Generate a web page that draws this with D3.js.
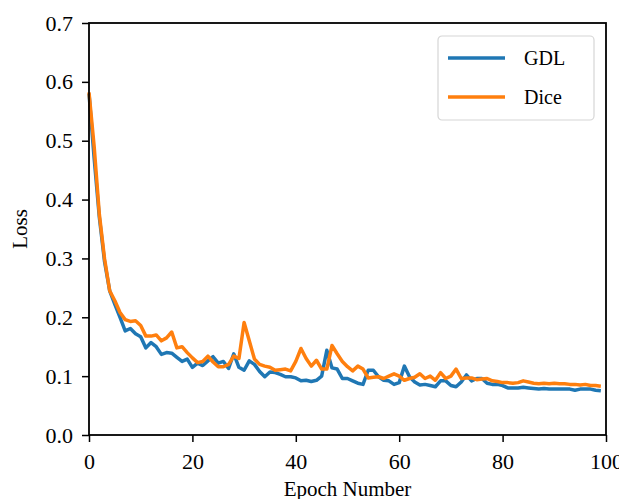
<!DOCTYPE html>
<html>
<head>
<meta charset="utf-8">
<script src="https://cdn.jsdelivr.net/npm/d3@7"></script>
<style>
  body { margin: 0; background: #fff; }
  text { font-family: "Liberation Serif", "Times New Roman", serif; }
</style>
</head>
<body>
<svg id="chart" width="619" height="499"></svg>
<script>
const epochs = d3.range(0, 100);

const gdlLoss = [
  0.580, 0.470, 0.370, 0.295, 0.245, 0.222, 0.200, 0.177, 0.181, 0.172,
  0.167, 0.148, 0.157, 0.150, 0.137, 0.140, 0.139, 0.132, 0.125, 0.129,
  0.115, 0.122, 0.118, 0.126, 0.133, 0.122, 0.125, 0.113, 0.138, 0.115,
  0.110, 0.126, 0.120, 0.108, 0.099, 0.107, 0.106, 0.103, 0.099, 0.099,
  0.097, 0.092, 0.093, 0.091, 0.093, 0.100, 0.144, 0.114, 0.112, 0.096,
  0.096, 0.092, 0.088, 0.086, 0.110, 0.110, 0.099, 0.093, 0.092, 0.086,
  0.089, 0.117, 0.099, 0.090, 0.085, 0.086, 0.084, 0.082, 0.092, 0.092,
  0.084, 0.082, 0.090, 0.102, 0.092, 0.096, 0.096, 0.088, 0.086, 0.086,
  0.084, 0.080, 0.080, 0.080, 0.081, 0.080, 0.079, 0.078, 0.079, 0.078,
  0.078, 0.078, 0.078, 0.078, 0.076, 0.078, 0.078, 0.078, 0.076, 0.075
];

const diceLoss = [
  0.582, 0.490, 0.375, 0.300, 0.245, 0.228, 0.208, 0.196, 0.193, 0.194,
  0.186, 0.168, 0.168, 0.170, 0.160, 0.165, 0.175, 0.148, 0.150, 0.140,
  0.131, 0.123, 0.125, 0.134, 0.124, 0.116, 0.116, 0.120, 0.134, 0.130,
  0.191, 0.160, 0.129, 0.120, 0.117, 0.115, 0.110, 0.111, 0.112, 0.109,
  0.125, 0.147, 0.130, 0.117, 0.127, 0.112, 0.112, 0.152, 0.138, 0.125,
  0.116, 0.109, 0.117, 0.112, 0.097, 0.098, 0.099, 0.096, 0.100, 0.104,
  0.100, 0.093, 0.096, 0.098, 0.104, 0.096, 0.100, 0.093, 0.106, 0.096,
  0.100, 0.112, 0.096, 0.097, 0.097, 0.094, 0.095, 0.096, 0.092, 0.091,
  0.089, 0.089, 0.088, 0.089, 0.092, 0.090, 0.088, 0.087, 0.088, 0.087,
  0.088, 0.087, 0.087, 0.086, 0.086, 0.085, 0.086, 0.084, 0.084, 0.083
];

const seriesNames = ["GDL", "Dice"];
const seriesColors = ["#1f77b4", "#ff7f0e"];
const xTicks = [0, 20, 40, 60, 80, 100];
const yTicks = [0.0, 0.1, 0.2, 0.3, 0.4, 0.5, 0.6, 0.7];

const svg = d3.select("#chart");
const margin = { left: 89, right: 13, top: 23, bottom: 64 };
const width = 619 - margin.left - margin.right;
const height = 499 - margin.top - margin.bottom;

const g = svg.append("g")
  .attr("transform", `translate(${margin.left},${margin.top})`);

const x = d3.scaleLinear().domain([0, 100]).range([0, width]);
const y = d3.scaleLinear().domain([0, 0.7]).range([height, 0]);

// lines
const line = d3.line()
  .x((d, i) => x(epochs[i]))
  .y(d => y(d));

[gdlLoss, diceLoss].forEach((s, i) => {
  g.append("path")
    .datum(s)
    .attr("fill", "none")
    .attr("stroke", seriesColors[i])
    .attr("stroke-width", 3.5)
    .attr("stroke-linejoin", "round")
    .attr("d", line);
});

// axes
const xAxis = g.append("g")
  .attr("transform", `translate(0,${height})`)
  .call(d3.axisBottom(x).tickValues(xTicks).tickFormat(d3.format("d")).tickSize(7).tickPadding(11));
const yAxis = g.append("g")
  .call(d3.axisLeft(y).tickValues(yTicks).tickFormat(d3.format(".1f")).tickSize(7).tickPadding(9));

[xAxis, yAxis].forEach(a => {
  a.select(".domain").remove();
  a.selectAll(".tick line").attr("stroke", "#000").attr("stroke-width", 1.5);
  a.selectAll(".tick text")
    .attr("fill", "#000")
    .style("font-size", "22px")
    .style("font-family", "'Liberation Serif', serif");
});

// frame
g.append("rect")
  .attr("width", width)
  .attr("height", height)
  .attr("fill", "none")
  .attr("stroke", "#000")
  .attr("stroke-width", 1.8);

// axis labels
svg.append("text")
  .attr("x", margin.left + width / 2)
  .attr("y", 496)
  .attr("text-anchor", "middle")
  .style("font-size", "21px")
  .text("Epoch Number");

svg.append("text")
  .attr("transform", `translate(27,${margin.top + height / 2}) rotate(-90)`)
  .attr("text-anchor", "middle")
  .style("font-size", "21px")
  .text("Loss");

// legend
const legend = svg.append("g").attr("transform", "translate(438,36)");
legend.append("rect")
  .attr("width", 156)
  .attr("height", 84)
  .attr("rx", 4)
  .attr("fill", "#fff")
  .attr("stroke", "#d6d6d6")
  .attr("stroke-width", 1.2);

seriesNames.forEach((name, i) => {
  const ly = 22 + i * 39;
  legend.append("line")
    .attr("x1", 10).attr("x2", 67)
    .attr("y1", ly).attr("y2", ly)
    .attr("stroke", seriesColors[i])
    .attr("stroke-width", 3.5);
  legend.append("text")
    .attr("x", 86)
    .attr("y", ly + 7)
    .style("font-size", "20px")
    .text(name);
});
</script>
</body>
</html>
